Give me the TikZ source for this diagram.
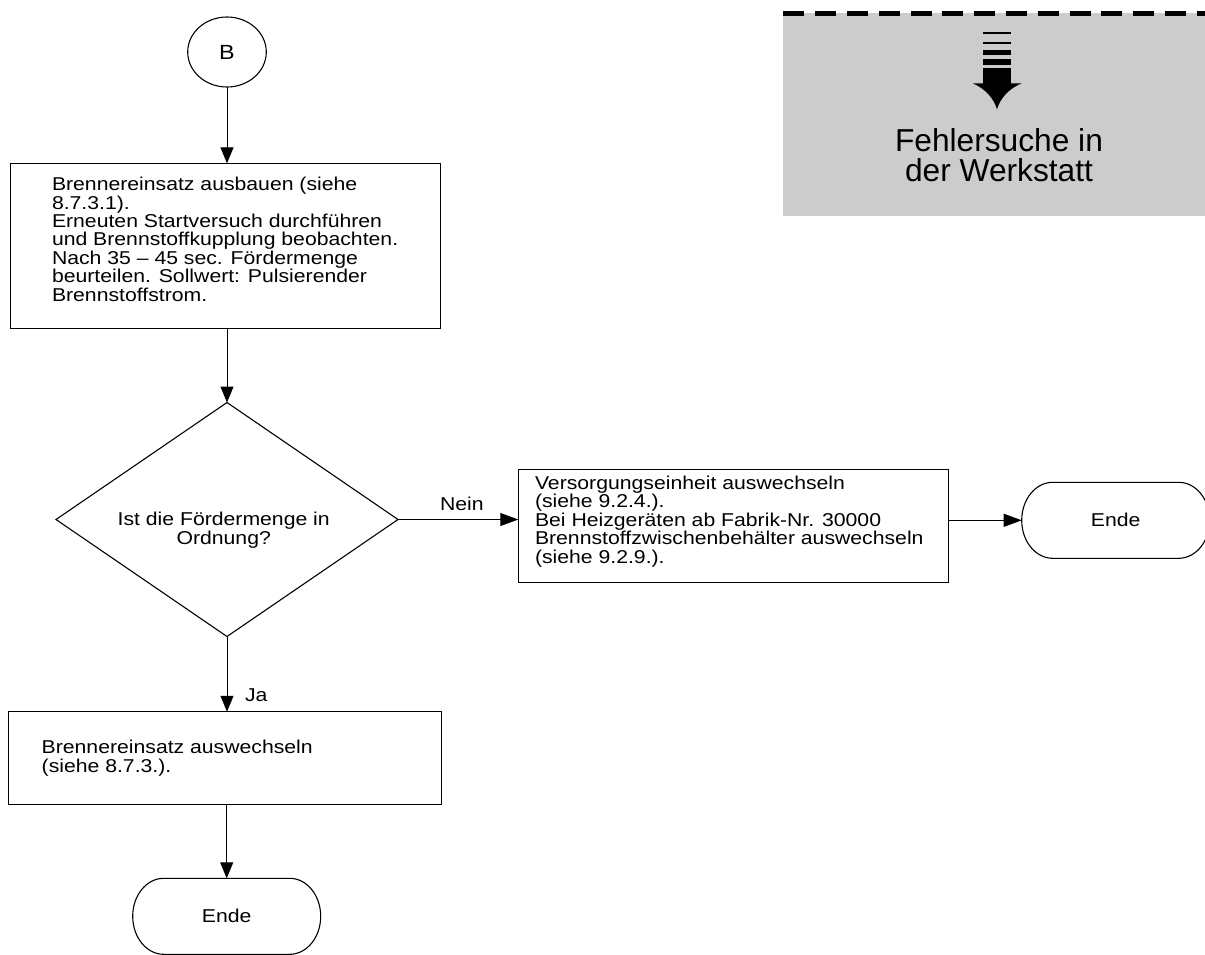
\documentclass[tikz,border=0pt]{standalone}
\usepackage{fontspec}
\setmainfont{Liberation Sans}[FakeStretch=1.14]
\newfontfamily\panelfont{Liberation Sans}
\usetikzlibrary{arrows.meta,shapes.geometric}
\definecolor{panelgray}{RGB}{204,204,204}

\begin{document}
\begin{tikzpicture}[x=1pt,y=-1pt,
  every node/.style={inner sep=0pt,outer sep=0pt},
  flow/.style={draw,line width=1.1pt},
  % multi-line texts are placed by the baseline of their last line
  bodytext/.style={font=\fontsize{18.6}{18.4}\selectfont,align=left,anchor=base west},
  centertext/.style={font=\fontsize{18.6}{18.4}\selectfont,align=center,anchor=base},
  termnode/.style={minimum width=188pt,minimum height=76pt,font=\fontsize{18.6}{18.4}\selectfont},
  conn/.style={line width=1pt,-{Triangle[length=16pt,width=13pt]}},
  hconn/.style={line width=1pt,-{Triangle[length=18pt,width=13pt]}},
  termline/.style={line width=1.1pt}
]
\useasboundingbox (0,0) rectangle (1205,954);

% workshop panel with dashed top edge
\fill[panelgray] (783,13.3) rectangle (1205,216);
\draw[line width=4.5pt,dash pattern=on 21pt off 10.8pt] (783.3,13.3) -- (1205,13.3);
% downward arrow symbol
\fill (983,32.3) rectangle (1011,34.3);
\fill (983,41.7) rectangle (1011,44.3);
\fill (983,50.3) rectangle (1011,54.5);
\fill (983,59) rectangle (1011,65);
\fill (983,68.3) rectangle (1011,83.6);
\fill (972.7,83.3) -- (1021.7,83.3)
  .. controls (1008,89) and (1000,99) .. (997,109.3)
  .. controls (994,99) and (986,89) .. (972.7,83.3) -- cycle;
\node[font=\panelfont\fontsize{31.7}{30.7}\selectfont,align=center,anchor=base]
  (paneltext) at (999,181.7) {Fehlersuche in\\der Werkstatt};

% connector B
\node[flow,ellipse,minimum width=78.6pt,minimum height=70pt,
  font=\fontsize{20.5}{20.5}\selectfont] (b) at (227,52) {B};

% step 1
\node[flow,minimum width=430.7pt,minimum height=164.7pt] (s1) at (225.4,245.7) {};
\node[bodytext] (s1t) at (52,301) {Brennereinsatz ausbauen (siehe\\8.7.3.1).\\Erneuten Startversuch durchführen\\und Brennstoffkupplung beobachten.\\Nach 35 – 45 sec. Fördermenge\\beurteilen. Sollwert: Pulsierender\\Brennstoffstrom.};

% decision
\node[flow,diamond,minimum width=342pt,minimum height=234pt] (q) at (227,519.5) {};
\node[centertext] (qt) at (223.7,544) {Ist die Fördermenge in\\Ordnung?};

% branch "Nein"
\node[flow,minimum width=430pt,minimum height=113.4pt] (s2) at (733.3,526) {};
\node[bodytext] (s2t) at (535,563) {Versorgungseinheit auswechseln\\(siehe 9.2.4.).\\Bei Heizgeräten ab Fabrik-Nr. 30000\\Brennstoffzwischenbehälter auswechseln\\(siehe 9.2.9.).};
\node[termnode] (e1) at (1115.7,520.3) {Ende};

% branch "Ja"
\node[flow,minimum width=432.7pt,minimum height=92.3pt] (s3) at (224.7,757.9) {};
\node[bodytext] (s3t) at (41.7,772) {Brennereinsatz auswechseln\\(siehe 8.7.3.).};
\node[termnode] (e0) at (226.7,916.3) {Ende};

% terminal outlines
\foreach \t in {e0,e1}{
  \draw[termline] ([xshift=31pt]\t.north west) -- ([xshift=-31pt]\t.north east)
    arc[start angle=90,end angle=-90,x radius=31pt,y radius=38pt]
    -- ([xshift=31pt]\t.south west)
    arc[start angle=270,end angle=90,x radius=31pt,y radius=38pt] -- cycle;
}

% connectors
\draw[conn] (b.south) -- (b.south |- s1.north);
\draw[conn] (s1.south -| q.north) -- (q.north);
\draw[conn] (q.south) -- (q.south |- s3.north);
\draw[conn] (s3.south -| e0.north) -- (e0.north);
\draw[hconn] (q.east) -- (q.east -| s2.west);
\draw[hconn] (s2.east |- e1.west) -- (e1.west);

% branch labels
\node[bodytext] (nein) at (440,510) {Nein};
\node[bodytext] (ja) at (245,701.7) {Ja};
\end{tikzpicture}
\end{document}
